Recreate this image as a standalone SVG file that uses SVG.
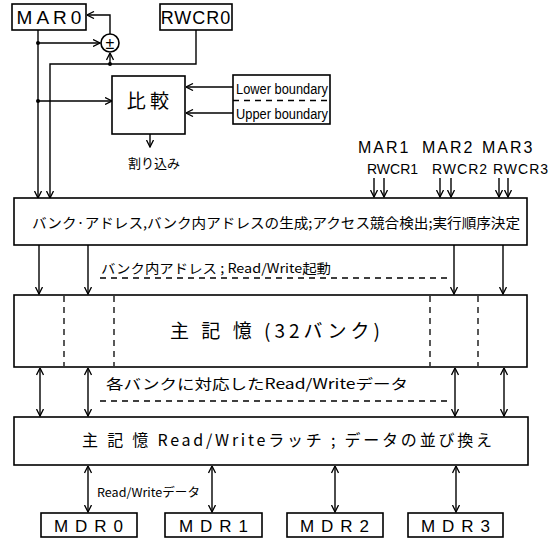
<svg xmlns="http://www.w3.org/2000/svg" width="560" height="541" viewBox="0 0 560 541">
<defs>
<marker id="ah" viewBox="0 0 8 8" refX="7.5" refY="4" markerWidth="8" markerHeight="8" markerUnits="userSpaceOnUse" orient="auto-start-reverse">
<path d="M0.5,0.5 L7.5,4 L0.5,7.5" fill="none" stroke="#000" stroke-width="1.3"/>
</marker>
<style>
.box{fill:#fff;stroke:#000;stroke-width:1.6}
.ln{fill:none;stroke:#000;stroke-width:1.4}
.ar{fill:none;stroke:#000;stroke-width:1.4;marker-end:url(#ah)}
.da{fill:none;stroke:#000;stroke-width:1.4;marker-start:url(#ah);marker-end:url(#ah)}
.dash{fill:none;stroke:#000;stroke-width:1.3;stroke-dasharray:6 5}
.t{font-family:"Noto Sans CJK JP","Noto Sans","Liberation Sans",sans-serif;fill:#000}
.lab{font-family:"Liberation Sans","Noto Sans CJK JP",sans-serif;fill:#000}
</style>
</defs>
<rect width="560" height="541" fill="#fff"/>

<g id="connectors">
<path class="ar" d="M38,30 V198"/>
<circle cx="38" cy="43" r="2" fill="#000"/>
<circle cx="38" cy="101" r="2" fill="#000"/>
<path class="ar" d="M38,43 H100"/>
<path class="ar" d="M38,101 H112"/>
<path class="ar" d="M110,34 V15 H87"/>
<path class="ar" d="M196,30 V64 H50 V198"/>
<circle cx="110" cy="64" r="2" fill="#000"/>
<path class="ar" d="M110,64 V53"/>
<path class="ar" d="M233,87 H186"/>
<path class="ar" d="M233,113 H186"/>
<path class="ar" d="M150,134 V147"/>
<path class="ar" d="M374,178 V197"/>
<path class="ar" d="M384,178 V197"/>
<path class="ar" d="M440,178 V197"/>
<path class="ar" d="M451,178 V197"/>
<path class="ar" d="M499,178 V197"/>
<path class="ar" d="M508,178 V197"/>
<path class="ar" d="M39,245 V294"/>
<path class="ar" d="M88,245 V294"/>
<path class="ar" d="M454,245 V294"/>
<path class="ar" d="M503,245 V294"/>
<path class="dash" d="M100,278 H452"/>
<path class="da" d="M40,368 V416"/>
<path class="da" d="M88,368 V416"/>
<path class="da" d="M455,368 V416"/>
<path class="da" d="M504,368 V416"/>
<path class="dash" d="M100,401 H452"/>
<path class="da" d="M88,466 V512"/>
<path class="da" d="M212,466 V512"/>
<path class="da" d="M335,466 V512"/>
<path class="da" d="M456,466 V512"/>
</g>

<g id="MAR0">
<rect class="box" x="12" y="4" width="74" height="26"/>
<text class="lab" x="51" y="24" font-size="19" text-anchor="middle" letter-spacing="4">MAR0</text>
</g>
<g id="RWCR0">
<rect class="box" x="160" y="4" width="72" height="26"/>
<text class="lab" x="196" y="24" font-size="18" text-anchor="middle" letter-spacing="1">RWCR0</text>
</g>
<g id="pm">
<circle class="box" cx="110" cy="43" r="9"/>
<text class="lab" x="110" y="49" font-size="16" text-anchor="middle">±</text>
</g>
<g id="compare">
<rect class="box" x="112" y="76" width="73" height="58"/>
<text class="t" x="148" y="108" font-size="19" text-anchor="middle">比 較</text>
</g>
<g id="boundary">
<rect class="box" x="233" y="75" width="97" height="49"/>
<path class="dash" d="M233,100.5 H330" stroke-dasharray="5 3"/>
<text class="lab" x="236" y="94" font-size="14" textLength="92" lengthAdjust="spacingAndGlyphs">Lower boundary</text>
<text class="lab" x="236" y="119" font-size="14" textLength="92" lengthAdjust="spacingAndGlyphs">Upper boundary</text>
</g>
<g id="interrupt">
<text class="t" x="154" y="168" font-size="13" text-anchor="middle">割り込み</text>
</g>
<g id="MARs">
<text class="lab" x="358" y="153" font-size="16" letter-spacing="2">MAR1</text>
<text class="lab" x="422" y="153" font-size="16" letter-spacing="2">MAR2</text>
<text class="lab" x="482" y="153" font-size="16" letter-spacing="2">MAR3</text>
<text class="lab" x="367" y="174" font-size="14">RWCR1</text>
<text class="lab" x="432" y="174" font-size="14" letter-spacing="1">RWCR2</text>
<text class="lab" x="493" y="174" font-size="14" letter-spacing="1">RWCR3</text>
</g>
<g id="bank">
<rect class="box" x="14" y="198" width="513" height="47"/>
<text class="t" x="32" y="228" font-size="14" textLength="488" lengthAdjust="spacingAndGlyphs">バンク·アドレス,バンク内アドレスの生成;アクセス競合検出;実行順序決定</text>
</g>
<g id="label1">
<text class="t" x="101" y="273" font-size="13" textLength="230" lengthAdjust="spacingAndGlyphs">バンク内アドレス ; Read/Write起動</text>
</g>
<g id="memory">
<rect class="box" x="14" y="295" width="513" height="72"/>
<path class="dash" d="M64,296 V366"/>
<path class="dash" d="M114,296 V366"/>
<path class="dash" d="M430,296 V366"/>
<path class="dash" d="M478,296 V366"/>
<text class="t" x="170" y="338" font-size="19" textLength="210" lengthAdjust="spacing">主 記 憶 (32バンク)</text>
</g>
<g id="label2">
<text class="t" x="106" y="389" font-size="14" textLength="302" lengthAdjust="spacingAndGlyphs">各バンクに対応したRead/Writeデータ</text>
</g>
<g id="latch">
<rect class="box" x="14" y="417" width="514" height="48"/>
<text class="t" x="82" y="446" font-size="16" textLength="410" lengthAdjust="spacing">主 記 憶 Read/Writeラッチ ; データの並び換え</text>
</g>
<g id="label3">
<text class="t" x="97" y="497" font-size="12" textLength="103" lengthAdjust="spacingAndGlyphs">Read/Writeデータ</text>
</g>
<g id="MDR0">
<rect class="box" x="41" y="513" width="96" height="24"/>
<text class="lab" x="92" y="532" font-size="17" text-anchor="middle" letter-spacing="7">MDR0</text>
</g>
<g id="MDR1">
<rect class="box" x="165" y="513" width="97" height="24"/>
<text class="lab" x="217" y="532" font-size="17" text-anchor="middle" letter-spacing="7">MDR1</text>
</g>
<g id="MDR2">
<rect class="box" x="287" y="513" width="96" height="24"/>
<text class="lab" x="338" y="532" font-size="17" text-anchor="middle" letter-spacing="7">MDR2</text>
</g>
<g id="MDR3">
<rect class="box" x="408" y="513" width="95" height="24"/>
<text class="lab" x="459" y="532" font-size="17" text-anchor="middle" letter-spacing="7">MDR3</text>
</g>
</svg>
